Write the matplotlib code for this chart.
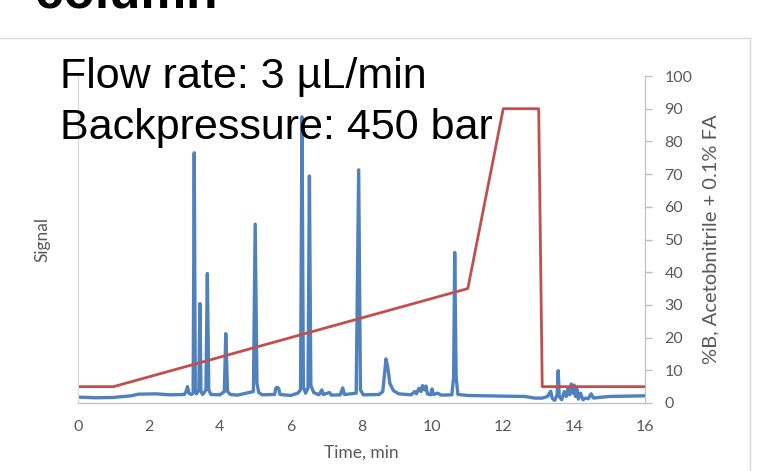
import matplotlib.pyplot as plt
from matplotlib.lines import Line2D

# chromatogram signal (time in min, signal drawn on the same 0-100 scale)
sig_t = [0.00, 0.50, 1.00, 1.50, 1.70, 2.20, 2.60, 3.00, 3.05, 3.09, 3.13, 3.20,
         3.25, 3.28, 3.31, 3.34, 3.41, 3.44, 3.47, 3.52, 3.61, 3.65, 3.69, 3.75,
         4.00, 4.13, 4.17, 4.22, 4.30, 4.50, 4.95, 5.00, 5.05, 5.10, 5.20, 5.55,
         5.58, 5.62, 5.66, 5.70, 6.00, 6.20, 6.28, 6.32, 6.36, 6.42, 6.49, 6.53,
         6.57, 6.65, 6.80, 6.88, 6.92, 7.10, 7.15, 7.40, 7.47, 7.52, 7.85, 7.92,
         7.97, 8.05, 8.50, 8.60, 8.66, 8.69, 8.74, 8.80, 8.90, 9.05, 9.40, 9.50,
         9.55, 9.62, 9.68, 9.72, 9.78, 9.82, 9.86, 9.95, 9.99, 10.03, 10.15, 10.25,
         10.55, 10.60, 10.63, 10.67, 10.72, 11.00, 12.00, 12.60, 12.90, 13.10, 13.25, 13.30,
         13.34, 13.38, 13.45, 13.52, 13.55, 13.58, 13.65, 13.72, 13.78, 13.83, 13.87, 13.92,
         13.96, 14.00, 14.04, 14.08, 14.12, 14.18, 14.25, 14.32, 14.40, 14.48, 14.55, 14.70,
         15.00, 15.50, 16.00]
sig_v = [1.8, 1.6, 1.7, 2.2, 2.7, 2.8, 2.5, 2.6, 3.5, 5.0, 3.0, 2.6,
         3.0, 76.5, 3.5, 2.8, 4.0, 30.4, 3.5, 2.6, 4.0, 39.6, 4.0, 2.6,
         2.5, 3.5, 21.2, 3.5, 2.6, 2.4, 3.5, 54.7, 6.0, 3.2, 2.5, 2.6,
         4.5, 4.8, 4.5, 2.6, 2.3, 3.0, 4.0, 87.5, 5.0, 3.0, 4.5, 69.4,
         5.5, 3.2, 2.5, 4.0, 2.6, 3.2, 2.4, 2.5, 4.6, 2.6, 3.0, 71.3,
         4.0, 2.5, 2.6, 3.5, 10.0, 13.5, 11.0, 6.0, 3.8, 2.8, 2.5, 3.5,
         2.8, 4.5, 3.5, 5.3, 4.0, 5.2, 2.8, 2.5, 4.3, 2.6, 3.0, 2.4,
         2.5, 8.0, 46.0, 8.0, 2.6, 2.3, 2.1, 2.0, 1.5, 1.5, 2.0, 3.0,
         3.6, 1.5, 0.8, 2.5, 9.9, 2.0, 1.0, 3.5, 2.0, 4.5, 2.5, 5.8,
         3.0, 5.5, 2.0, 4.2, 1.2, 3.0, 1.0, 1.5, 1.3, 2.8, 1.5, 1.7,
         2.0, 2.1, 2.2]

# gradient program, %B
grad_t = [0, 1, 11, 12, 13, 13.1, 16]
grad_b = [5, 5, 35, 90, 90, 5, 5]

xticks = [0, 2, 4, 6, 8, 10, 12, 14, 16]
yticks = [0, 10, 20, 30, 40, 50, 60, 70, 80, 90, 100]

grey_txt = '#595959'
fnt = 'Lato'

fig = plt.figure(figsize=(7.83, 4.71), dpi=100)
ax = fig.add_axes([78/783, 1-403/471, (645-78)/783, (403-76)/471])
ax2 = ax.twinx()

ax.plot(sig_t, sig_v, color='#4F81BD', lw=2.4, solid_joinstyle='round')
ax2.plot(grad_t, grad_b, color='#C0504D', lw=2.0)

ax.set_xlim(0, 16)
ax.set_ylim(0, 100)
ax2.set_ylim(0, 100)
ax.set_xticks(xticks)
ax.set_yticks([])
ax2.set_yticks(yticks)

for a in (ax, ax2):
    a.spines['top'].set_visible(False)
    a.spines['left'].set_color('#D9D9D9')
    a.spines['bottom'].set_color('#BFBFBF')
    a.spines['right'].set_color('#BFBFBF')
ax.tick_params(axis='x', length=0, pad=12, labelsize=11.5, labelcolor=grey_txt)
ax2.tick_params(axis='y', length=5, width=1, color='#BFBFBF', pad=9,
                labelsize=11.5, labelcolor=grey_txt)
for lab in ax.get_xticklabels() + ax2.get_yticklabels():
    lab.set_fontfamily(fnt)

ax.set_xlabel('Time, min', fontsize=12.5, color=grey_txt, family=fnt, labelpad=8)
ax.set_ylabel('Signal', fontsize=12.5, color=grey_txt, family=fnt, labelpad=20)
ax2.set_ylabel('%B, Acetobnitrile + 0.1% FA', fontsize=14.5, color=grey_txt,
               family=fnt, labelpad=7)

# overlaid annotation text
fig.text(60/783, 1-88/471, 'Flow rate: 3 µL/min', fontsize=31,
         family='Liberation Sans', va='baseline', ha='left', color='black')
fig.text(60/783, 1-139/471, 'Backpressure: 450 bar', fontsize=31,
         family='Liberation Sans', va='baseline', ha='left', color='black')

# cut-off slide title at the top
fig.text(35/783, 1-8/471, 'column', fontsize=37, fontweight='bold',
         family='Liberation Sans', va='baseline', ha='left', color='black')

# chart area border
fig.add_artist(Line2D([0, 750/783], [1-38/471, 1-38/471], color='#D9D9D9', lw=1))
fig.add_artist(Line2D([750/783, 750/783], [0, 1-38/471], color='#D9D9D9', lw=1))

fig.savefig('out.png', dpi=100)
